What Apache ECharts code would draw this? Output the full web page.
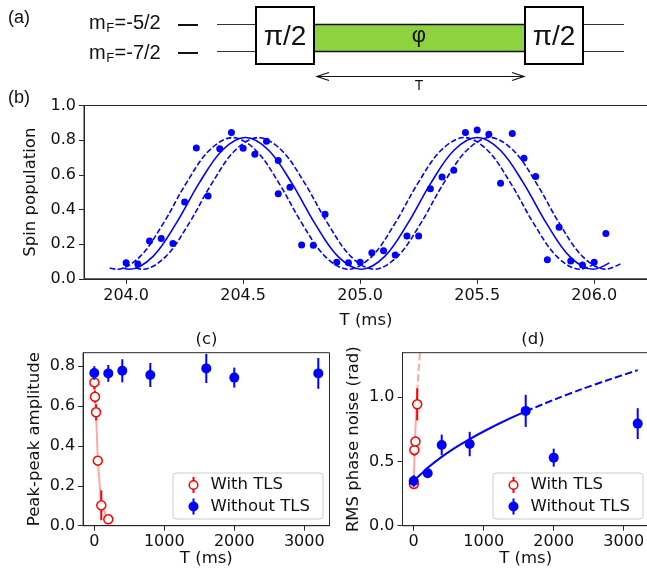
<!DOCTYPE html>
<html><head><meta charset="utf-8">
<script src="https://cdn.jsdelivr.net/npm/echarts@6/dist/echarts.min.js"></script>
<style>html,body{margin:0;padding:0;background:#fff}#c{width:647px;height:574px}</style>
</head><body><div id="c"></div>
<script>
// ---------------- data ----------------
// (b) Ramsey fringe data
const bT = [204.00,204.05,204.10,204.15,204.20,204.25,204.30,204.35,204.40,204.45,204.50,204.55,204.60,204.65,204.65,204.70,204.75,204.80,204.85,204.90,204.95,205.00,205.05,205.10,205.15,205.20,205.25,205.30,205.35,205.40,205.45,205.50,205.55,205.60,205.65,205.70,205.75,205.80,205.85,205.90,205.95,206.00,206.05];
const bPop = [0.092,0.085,0.218,0.233,0.204,0.443,0.755,0.478,0.751,0.844,0.753,0.719,0.794,0.682,0.491,0.528,0.195,0.193,0.372,0.096,0.092,0.096,0.150,0.162,0.137,0.247,0.247,0.520,0.588,0.626,0.844,0.859,0.834,0.551,0.838,0.696,0.590,0.110,0.297,0.102,0.079,0.096,0.262];
// (b) fit curves (read points along each curve)
const fitT = [203.985,204.015,204.114,204.213,204.312,204.411,204.510,204.609,204.708,204.807,204.906,205.005,205.104,205.203,205.302,205.401,205.500,205.599,205.698,205.797,205.896,205.995,206.065];
const fitLowT = [203.930,203.960,204.059,204.158,204.257,204.356,204.455,204.554,204.653,204.752,204.851,204.950,205.049,205.148,205.247,205.346,205.445,205.544,205.643,205.742,205.841,205.940,206.010];
const fitHighT = [204.040,204.070,204.169,204.268,204.367,204.466,204.565,204.664,204.763,204.862,204.961,205.060,205.159,205.258,205.357,205.456,205.555,205.654,205.753,205.852,205.951,206.050,206.120];
const fitPop = [0.062,0.055,0.128,0.318,0.552,0.742,0.815,0.742,0.552,0.318,0.128,0.055,0.128,0.318,0.552,0.742,0.815,0.742,0.552,0.318,0.128,0.055,0.092];
const bTicks = [204.0,204.5,205.0,205.5,206.0];
const popTicks = [0,0.2,0.4,0.6,0.8,1.0];

// (c) peak-peak amplitude
const cRedT = [2,10,25,50,100,200];
const cRedAmp = [0.718,0.646,0.568,0.326,0.102,0.032];
const cRedErr = [0.035,0.03,0.04,0.02,0.075,0.01];
const cBlueT = [0,200,400,800,1600,2000,3200];
const cBlueAmp = [0.765,0.763,0.776,0.755,0.788,0.742,0.763];
const cBlueErr = [0.034,0.042,0.058,0.06,0.073,0.05,0.077];
const ampTicks = [0,0.2,0.4,0.6,0.8];

// (d) RMS phase noise
const dRedT = [2,10,25,50];
const dRedNoise = [0.325,0.59,0.655,0.945];
const dRedErr = [0.02,0.045,0.04,0.125];
const dRedFitT = [0,10,25,50];
const dRedFitY = [0.32,0.52,0.75,1.04];
const dRedExtT = [50,75,100,125];
const dRedExtY = [1.04,1.24,1.42,1.58];
const dBlueT = [0,200,400,800,1600,2000,3200];
const dBlueNoise = [0.348,0.408,0.629,0.636,0.894,0.530,0.795];
const dBlueErr = [0.045,0.035,0.08,0.095,0.125,0.07,0.12];
const dBlueFitT = [0,50,100,200,400,600,800,1200,1600];
const dBlueFitY = [0.345,0.374,0.40,0.451,0.536,0.61,0.675,0.79,0.89];
const dBlueExtT = [1600,2000,2400,2800,3200];
const dBlueExtY = [0.89,0.98,1.063,1.139,1.211];
const noiseTicks = [0,0.5,1.0];
const msTicks = [0,1000,2000,3000];

// ---------------- helpers ----------------
const zip = (a,b)=>a.map((v,i)=>[v,b[i]]);
const zip3 = (a,b,c)=>a.map((v,i)=>[v,b[i],c[i]]);
const BLUE = '#0000ff', RED = '#ff0000';
const FONT = 'DejaVu Sans';
const AX = '#262626';
const mctx = document.createElement('canvas').getContext('2d');
function tw(s, font){ mctx.font = font; return mctx.measureText(s).width; }

function axisBase(extra){
  return Object.assign({
    type:'value',
    axisLine:{show:true, onZero:false, lineStyle:{color:AX, width:1}},
    axisTick:{show:true, length:5, lineStyle:{color:AX, width:1}},
    splitLine:{show:false},
    nameTextStyle:{fontFamily:FONT, fontSize:16.5, color:'#111'},
  }, extra);
}
function lbl(fmt, margin, vals){
  return {color:'#111', fontFamily:FONT, fontSize:16, margin:margin, formatter:fmt, customValues:vals, showMinLabel:true, showMaxLabel:true};
}
function errSeries(data, color, xi, z){
  return {
    type:'custom', xAxisIndex:xi, yAxisIndex:xi, z:z, silent:true, clip:false,
    data:data, encode:{x:0, y:1},
    renderItem:function(params, api){
      const x = api.value(0), y = api.value(1), e = api.value(2);
      const p1 = api.coord([x, y - e]), p2 = api.coord([x, y + e]);
      return {type:'line', shape:{x1:p1[0], y1:p1[1], x2:p2[0], y2:p2[1]}, style:{stroke:color, lineWidth:2}};
    }
  };
}
function lineSeries(data, xi, color, width, type, z, smooth){
  return {type:'line', xAxisIndex:xi, yAxisIndex:xi, data:data, symbol:'none', showSymbol:false,
    smooth: smooth || false, z:z, silent:true, lineStyle:{color:color, width:width, type:type}};
}

// ---------------- graphics (schematic, legends, labels) ----------------
const g = [];
function txt(x, y, s, size, family, align, va){
  g.push({type:'text', x:x, y:y, z:100, style:{text:s, font:size+'px "'+family+'"', fill:'#111', align:align||'left', verticalAlign:va||'middle'}});
}
function ln(x1,y1,x2,y2,w,c){ g.push({type:'line', z:90, shape:{x1,y1,x2,y2}, style:{stroke:c||'#111', lineWidth:w}}); }

// panel labels
txt(8, 18, '(a)', 18, 'Liberation Sans');
txt(8, 98, '(b)', 18, 'Liberation Sans');
// level labels m_F
function mf(x, base, rest){
  const f1 = '20px "Liberation Sans"', f2 = '13px "Liberation Sans"';
  const w1 = tw('m', f1), w2 = tw('F', f2);
  txt(x, base - 6, 'm', 20, 'Liberation Sans');
  txt(x + w1 + 0.5, base - 1, 'F', 13, 'Liberation Sans');
  txt(x + w1 + w2 + 1, base - 6, rest, 20, 'Liberation Sans');
}
mf(89, 29, '=-5/2');
mf(89, 59, '=-7/2');
ln(178, 25, 198, 25, 2);
ln(178, 53, 198, 53, 2);
// levels
ln(217, 24.5, 624, 24.5, 1, '#333');
ln(217, 51.5, 624, 51.5, 1, '#333');
g.push({type:'rect', z:91, shape:{x:314, y:24.5, width:211, height:27}, style:{fill:'#8fd23f', stroke:'#111', lineWidth:1.5}});
g.push({type:'rect', z:92, shape:{x:256, y:7, width:58, height:57}, style:{fill:'#fff', stroke:'#000', lineWidth:2}});
g.push({type:'rect', z:92, shape:{x:525, y:7, width:58, height:57}, style:{fill:'#fff', stroke:'#000', lineWidth:2}});
txt(285, 37, 'π/2', 28, 'Liberation Sans', 'center');
txt(554, 37, 'π/2', 28, 'Liberation Sans', 'center');
txt(419, 36, 'φ', 22, 'Liberation Sans', 'center');
// arrow T
ln(317, 76.5, 524, 76.5, 1.2);
g.push({type:'polyline', z:90, shape:{points:[[329,72.5],[317,76.5],[329,80.5]]}, style:{stroke:'#111', fill:null, lineWidth:1.2}});
g.push({type:'polyline', z:90, shape:{points:[[512,72.5],[524,76.5],[512,80.5]]}, style:{stroke:'#111', fill:null, lineWidth:1.2}});
txt(419, 86, 'T', 14, 'Liberation Sans', 'center');

// subplot titles
txt(206.5, 340, '(c)', 16.5, FONT, 'center');
txt(533, 340, '(d)', 16.5, FONT, 'center');

// legends
function legend(left, top){
  g.push({type:'rect', z:95, shape:{x:left+0.5, y:top+0.5, width:150, height:46, r:3}, style:{fill:'rgba(255,255,255,0.85)', stroke:'#cccccc', lineWidth:1}});
  const mx = left + 21, r1 = top + 12.5, r2 = top + 34;
  g.push({type:'line', z:96, shape:{x1:mx, y1:r1-8, x2:mx, y2:r1+8}, style:{stroke:RED, lineWidth:2}});
  g.push({type:'circle', z:97, shape:{cx:mx, cy:r1, r:4.3}, style:{fill:'#fff', stroke:RED, lineWidth:1.5}});
  g.push({type:'line', z:96, shape:{x1:mx, y1:r2-8, x2:mx, y2:r2+8}, style:{stroke:BLUE, lineWidth:2}});
  g.push({type:'circle', z:97, shape:{cx:mx, cy:r2, r:5}, style:{fill:BLUE}});
  txt(left + 38, r1, 'With TLS', 16.5, FONT);
  txt(left + 38, r2, 'Without TLS', 16.5, FONT);
}
legend(172.5, 472.5);
legend(492.5, 472.5);

// ---------------- chart ----------------
const chart = echarts.init(document.getElementById('c'), null, {renderer:'canvas', devicePixelRatio:1});
const f1 = v => v.toFixed(1);
const f0 = v => String(Math.round(v));
const gridStyle = {show:true, borderColor:AX, borderWidth:1, backgroundColor:'transparent', containLabel:false, outerBoundsMode:'none'};
chart.setOption({
  animation:false,
  backgroundColor:'#fff',
  textStyle:{fontFamily:FONT},
  grid:[
    Object.assign({left:84, top:105.5, width:564, height:173.3}, gridStyle),
    Object.assign({left:83.1, top:352.7, width:246.4, height:173}, gridStyle),
    Object.assign({left:402.5, top:352.7, width:246.4, height:173}, gridStyle)
  ],
  xAxis:[
    axisBase({gridIndex:0, min:203.82, max:206.23, name:'T (ms)', nameLocation:'middle', nameGap:33,
      axisLabel:lbl(f1, 9, bTicks), axisTick:{show:true, length:5, customValues:bTicks, lineStyle:{color:AX}}}),
    axisBase({gridIndex:1, min:-160, max:3360, name:'T (ms)', nameLocation:'middle', nameGap:24,
      axisLabel:lbl(f0, 8, msTicks), axisTick:{show:true, length:5, customValues:msTicks, lineStyle:{color:AX}}}),
    axisBase({gridIndex:2, min:-160, max:3360, name:'T (ms)', nameLocation:'middle', nameGap:24,
      axisLabel:lbl(f0, 8, msTicks), axisTick:{show:true, length:5, customValues:msTicks, lineStyle:{color:AX}}})
  ],
  yAxis:[
    axisBase({gridIndex:0, min:0, max:1.0, name:'Spin population', nameLocation:'middle', nameGap:40, nameRotate:90,
      axisLabel:lbl(f1, 8, popTicks), axisTick:{show:true, length:5, customValues:popTicks, lineStyle:{color:AX}}}),
    axisBase({gridIndex:1, min:0, max:0.8667, name:'Peak-peak amplitude', nameLocation:'middle', nameGap:40, nameRotate:90,
      axisLabel:lbl(f1, 8, ampTicks), axisTick:{show:true, length:5, customValues:ampTicks, lineStyle:{color:AX}}}),
    axisBase({gridIndex:2, min:0, max:1.347, name:'RMS phase noise (rad)', nameLocation:'middle', nameGap:40, nameRotate:90,
      axisLabel:lbl(f1, 8, noiseTicks), axisTick:{show:true, length:5, customValues:noiseTicks, lineStyle:{color:AX}}})
  ],
  graphic:{elements:g},
  series:[
    // (b)
    lineSeries(zip(fitT, fitPop), 0, BLUE, 1.6, 'solid', 2, 0.35),
    lineSeries(zip(fitLowT, fitPop), 0, BLUE, 1.6, [5.5,2.4], 2, 0.35),
    lineSeries(zip(fitHighT, fitPop), 0, BLUE, 1.6, [5.5,2.4], 2, 0.35),
    {type:'scatter', xAxisIndex:0, yAxisIndex:0, data:zip(bT, bPop), symbol:'circle', symbolSize:7, z:5, itemStyle:{color:BLUE, opacity:1}},
    // (c)
    lineSeries(zip(cRedT, cRedAmp), 1, 'rgba(255,60,60,0.45)', 2, 'solid', 2),
    errSeries(zip3(cRedT, cRedAmp, cRedErr), RED, 1, 3),
    {type:'scatter', xAxisIndex:1, yAxisIndex:1, data:zip(cRedT, cRedAmp), symbol:'circle', symbolSize:9, z:4, itemStyle:{color:'#fff', borderColor:RED, borderWidth:1.5, opacity:1}},
    errSeries(zip3(cBlueT, cBlueAmp, cBlueErr), BLUE, 1, 5),
    {type:'scatter', xAxisIndex:1, yAxisIndex:1, data:zip(cBlueT, cBlueAmp), symbol:'circle', symbolSize:10, z:6, itemStyle:{color:BLUE, opacity:1}},
    // (d)
    lineSeries(zip(dRedFitT, dRedFitY), 2, 'rgba(255,60,60,0.45)', 2, 'solid', 2),
    lineSeries(zip(dRedExtT, dRedExtY), 2, 'rgba(255,60,60,0.45)', 2, [7.4,3.2], 2),
    errSeries(zip3(dRedT, dRedNoise, dRedErr), RED, 2, 3),
    {type:'scatter', xAxisIndex:2, yAxisIndex:2, data:zip(dRedT, dRedNoise), symbol:'circle', symbolSize:9, z:4, itemStyle:{color:'#fff', borderColor:RED, borderWidth:1.5, opacity:1}},
    lineSeries(zip(dBlueFitT, dBlueFitY), 2, BLUE, 2, 'solid', 5, 0.3),
    lineSeries(zip(dBlueExtT, dBlueExtY), 2, BLUE, 2, [7.4,3.2], 5, 0.3),
    errSeries(zip3(dBlueT, dBlueNoise, dBlueErr), BLUE, 2, 5),
    {type:'scatter', xAxisIndex:2, yAxisIndex:2, data:zip(dBlueT, dBlueNoise), symbol:'circle', symbolSize:10, z:6, itemStyle:{color:BLUE, opacity:1}}
  ]
});
</script></body></html>
